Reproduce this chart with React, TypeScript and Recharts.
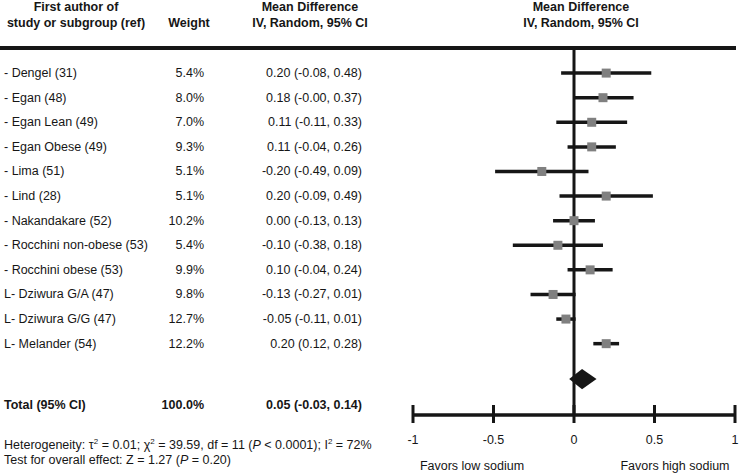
import { ScatterChart, Scatter, XAxis, YAxis, ErrorBar, ReferenceLine, ReferenceArea } from 'recharts';

const studies = [
  '- Dengel (31)', '- Egan (48)', '- Egan Lean (49)', '- Egan Obese (49)', '- Lima (51)', '- Lind (28)',
  '- Nakandakare (52)', '- Rocchini non-obese (53)', '- Rocchini obese (53)', 'L- Dziwura G/A (47)',
  'L- Dziwura G/G (47)', 'L- Melander (54)',
];
const weights = [5.4, 8.0, 7.0, 9.3, 5.1, 5.1, 10.2, 5.4, 9.9, 9.8, 12.7, 12.2];
const meanDiff = [0.20, 0.18, 0.11, 0.11, -0.20, 0.20, 0.00, -0.10, 0.10, -0.13, -0.05, 0.20];
const ciLow = [-0.08, -0.00, -0.11, -0.04, -0.49, -0.09, -0.13, -0.38, -0.04, -0.27, -0.11, 0.12];
const ciHigh = [0.48, 0.37, 0.33, 0.26, 0.09, 0.49, 0.13, 0.18, 0.24, 0.01, 0.01, 0.28];

const total = { md: 0.05, low: -0.03, high: 0.14, weight: 100.0 };
const xTicks = [-1, -0.5, 0, 0.5, 1];

// row positions on the y scale
const TOTAL_TEXT_ROW = 13.5;
const DIAMOND_ROW = 12.44;

const INK = '#161616';
const FONT = '"Liberation Sans", Arial, sans-serif';

const fmt = (v: number) => (v < 0 || Object.is(v, -0) ? '-' : '') + Math.abs(v).toFixed(2);
const ciText = (m: number, l: number, h: number) => `${fmt(m)} (${fmt(l)}, ${fmt(h)})`;

const rows = studies.map((name, i) => ({
  name,
  row: i,
  md: meanDiff[i],
  err: [meanDiff[i] - ciLow[i], ciHigh[i] - meanDiff[i]],
}));

const RowTick = ({ y, payload }: any) => {
  const v = payload.value;
  if (v === TOTAL_TEXT_ROW) {
    return (
      <g fontFamily={FONT} fontSize={12.5} fontWeight="bold" fill={INK}>
        <text x={4} y={y} dominantBaseline="central">Total (95% CI)</text>
        <text x={204} y={y} textAnchor="end" dominantBaseline="central">{total.weight.toFixed(1)}%</text>
        <text x={362} y={y} textAnchor="end" dominantBaseline="central">{ciText(total.md, total.low, total.high)}</text>
      </g>
    );
  }
  const i = Math.round(v);
  return (
    <g fontFamily={FONT} fontSize={12.5} fill={INK}>
      <text x={4} y={y} dominantBaseline="central">{studies[i]}</text>
      <text x={204} y={y} textAnchor="end" dominantBaseline="central">{weights[i].toFixed(1)}%</text>
      <text x={362} y={y} textAnchor="end" dominantBaseline="central">{ciText(meanDiff[i], ciLow[i], ciHigh[i])}</text>
    </g>
  );
};

const AxisTick = ({ x, y, payload }: any) => (
  <g>
    <line x1={x} x2={x} y1={y - 10} y2={y + 8} stroke={INK} strokeWidth={3} />
    <text x={x} y={y + 25} textAnchor="middle" dominantBaseline="central" fontFamily={FONT} fontSize={12.5} fill={INK}>
      {payload.value}
    </text>
  </g>
);

const Square = ({ cx, cy }: any) => <rect x={cx - 4.5} y={cy - 4.5} width={9} height={9} fill="#808080" />;

const Diamond = ({ x, y, width, height }: any) => {
  const cx = x + (width * (total.md - total.low)) / (total.high - total.low);
  const cy = y + height / 2;
  return <polygon points={`${x},${cy} ${cx},${y} ${x + width},${cy} ${cx},${y + height}`} fill={INK} />;
};

const headStyle: any = {
  position: 'absolute', top: -1, fontWeight: 'bold', fontSize: 12.5, lineHeight: '16px',
  textAlign: 'center', color: INK, whiteSpace: 'nowrap', transform: 'translateX(-50%)',
};
const footStyle: any = { position: 'absolute', fontSize: 12.5, color: INK, whiteSpace: 'nowrap', lineHeight: '16px' };

export default function App() {
  return (
    <div style={{ position: 'absolute', left: 0, top: 0, width: 741, height: 475, fontFamily: FONT, background: '#fff' }}>
      <div style={{ ...headStyle, left: 76 }}>First author of<br />study or subgroup (ref)</div>
      <div style={{ ...headStyle, left: 189, top: 15 }}>Weight</div>
      <div style={{ ...headStyle, left: 310 }}>Mean Difference<br />IV, Random, 95% CI</div>
      <div style={{ ...headStyle, left: 581 }}>Mean Difference<br />IV, Random, 95% CI</div>
      <div style={{ position: 'absolute', left: 0, top: 46, width: 736, height: 4, background: INK }} />

      <ScatterChart width={741} height={475} margin={{ top: 48, right: 6, bottom: 0, left: 0 }}>
        <XAxis
          type="number"
          dataKey="md"
          domain={[-1, 1]}
          ticks={xTicks}
          interval={0}
          height={60}
          tickSize={0}
          tickMargin={0}
          tickLine={false}
          axisLine={{ stroke: INK, strokeWidth: 3.5 }}
          tick={<AxisTick />}
        />
        <YAxis
          type="number"
          dataKey="row"
          domain={[-1.02, 13.9]}
          reversed
          width={413}
          ticks={[...studies.map((_, i) => i), TOTAL_TEXT_ROW]}
          interval={0}
          axisLine={false}
          tickLine={false}
          tick={<RowTick />}
          allowDataOverflow
        />
        <ReferenceLine x={0} stroke={INK} strokeWidth={3} />
        <ReferenceArea
          x1={total.low}
          x2={total.high}
          y1={DIAMOND_ROW - 0.41}
          y2={DIAMOND_ROW + 0.41}
          shape={<Diamond />}
        />
        <Scatter data={rows} shape={<Square />} isAnimationActive={false}>
          <ErrorBar dataKey="err" direction="x" width={0} stroke={INK} strokeWidth={3.5} isAnimationActive={false} />
        </Scatter>
      </ScatterChart>

      <div style={{ ...footStyle, left: 4, top: 434 }}>
        Heterogeneity: τ<sup style={{ fontSize: 8 }}>2</sup> = 0.01; χ<sup style={{ fontSize: 8 }}>2</sup> = 39.59, df = 11 (<i>P</i> &lt; 0.0001); I<sup style={{ fontSize: 8 }}>2</sup> = 72%
      </div>
      <div style={{ ...footStyle, left: 4, top: 452 }}>
        Test for overall effect: Z = 1.27 (<i>P</i> = 0.20)
      </div>
      <div style={{ ...footStyle, left: 472, top: 458, transform: 'translateX(-50%)' }}>Favors low sodium</div>
      <div style={{ ...footStyle, left: 675, top: 458, transform: 'translateX(-50%)' }}>Favors high sodium</div>
    </div>
  );
}
